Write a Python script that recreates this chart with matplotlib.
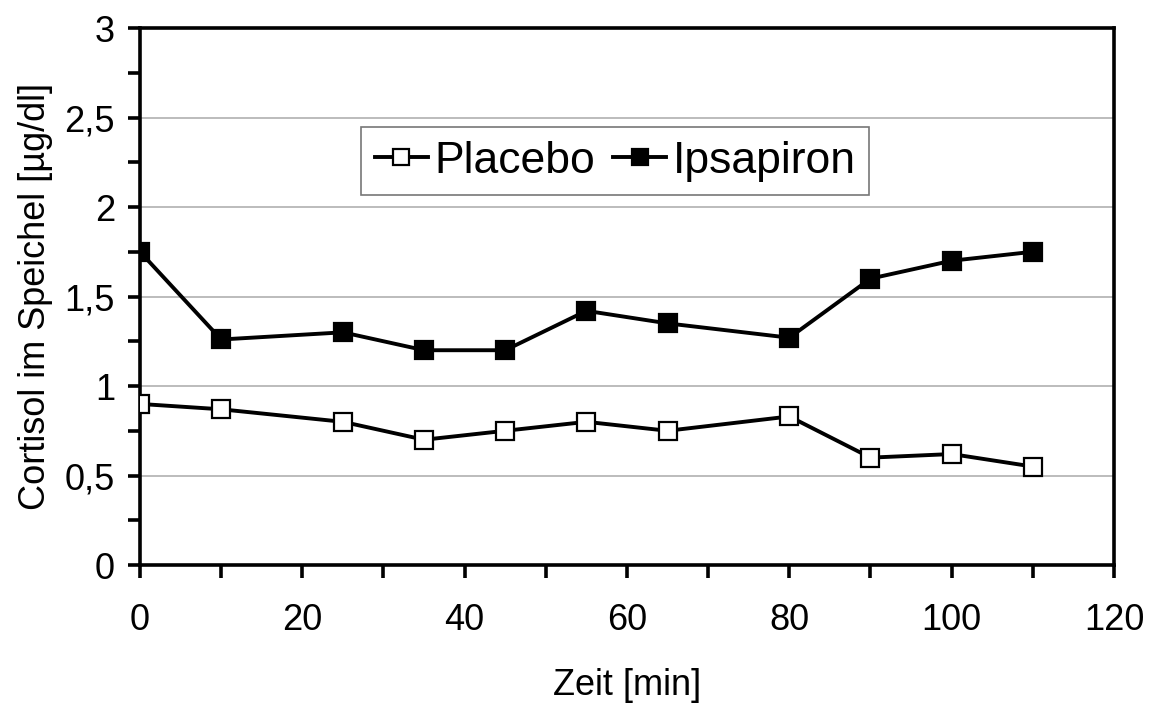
import matplotlib
matplotlib.use("Agg")
import matplotlib.pyplot as plt
from matplotlib.ticker import MultipleLocator, FuncFormatter

plt.rcParams['font.family'] = ['Liberation Sans', 'DejaVu Sans']

zeit = [0, 10, 25, 35, 45, 55, 65, 80, 90, 100, 110]
placebo = [0.90, 0.87, 0.80, 0.70, 0.75, 0.80, 0.75, 0.83, 0.60, 0.62, 0.55]
ipsapiron = [1.75, 1.26, 1.30, 1.20, 1.20, 1.42, 1.35, 1.27, 1.60, 1.70, 1.75]

fig = plt.figure(figsize=(11.55, 7.04), dpi=100)
ax = fig.add_axes([0.1212, 0.1974, 0.8433, 0.7628])

ax.plot(zeit, placebo, color='black', lw=2.8, marker='s', ms=13,
        mfc='white', mec='black', mew=1.6, label='Placebo', zorder=3)
ax.plot(zeit, ipsapiron, color='black', lw=2.8, marker='s', ms=13,
        mfc='black', mec='black', mew=1.6, label='Ipsapiron', zorder=3)

ax.set_xlim(0, 120)
ax.set_ylim(0, 3)
ax.xaxis.set_major_locator(MultipleLocator(20))
ax.xaxis.set_minor_locator(MultipleLocator(10))
ax.yaxis.set_major_locator(MultipleLocator(0.5))
ax.yaxis.set_minor_locator(MultipleLocator(0.25))
ax.yaxis.set_major_formatter(FuncFormatter(
    lambda v, p: ('%g' % v).replace('.', ',')))

ax.grid(axis='y', which='major', color='#b0b0b0', lw=1.2, zorder=0)
for s in ax.spines.values():
    s.set_linewidth(2.6)
ax.tick_params(which='both', direction='out', width=2.6, length=9,
               labelsize=26)
ax.tick_params(axis='x', pad=18)
ax.tick_params(axis='y', pad=9)

ax.set_xlabel('Zeit [min]', fontsize=26, labelpad=22)
ax.set_ylabel('Cortisol im Speichel [µg/dl]', fontsize=26, labelpad=8)

leg = ax.legend(loc='center', bbox_to_anchor=(0.488, 0.752), ncol=2,
                fontsize=32, frameon=True, fancybox=False, handlelength=1.2,
                handletextpad=0.15, columnspacing=0.4, borderpad=0.3,
                markerscale=0.85)
leg.get_frame().set_edgecolor('#555555')
leg.get_frame().set_linewidth(1.2)

fig.savefig('out.png', dpi=100)
